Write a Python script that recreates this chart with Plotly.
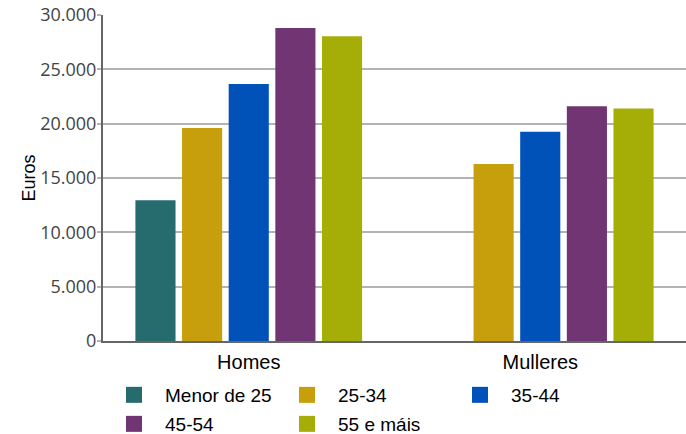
import plotly.graph_objects as go

categories = ["Homes", "Mulleres"]
series_names = ["Menor de 25", "25-34", "35-44", "45-54", "55 e máis"]
values = {
    "Menor de 25": [12950, None],
    "25-34": [19600, 16280],
    "35-44": [23650, 19250],
    "45-54": [28800, 21600],
    "55 e máis": [28050, 21400],
}
colors = ["#266b6e", "#c79e0c", "#0052b8", "#703572", "#a5ae07"]
y_ticks = [0, 5000, 10000, 15000, 20000, 25000, 30000]
legend_rows = [["Menor de 25", "25-34", "35-44"], ["45-54", "55 e máis"]]

fig = go.Figure()
for name, col in zip(series_names, colors):
    fig.add_trace(go.Bar(x=categories, y=values[name], name=name,
                         marker=dict(color=col, line=dict(width=0)),
                         showlegend=False))
for name, col in zip(series_names, colors):
    lg = "legend" if name in legend_rows[0] else "legend2"
    fig.add_trace(go.Scatter(x=[None], y=[None], mode="markers", name=name,
                             legend=lg,
                             marker=dict(symbol="square", size=18, color=col)))

leg_common = dict(orientation="h", x=0.0, xanchor="left", yanchor="middle",
                  font=dict(size=19, family="Liberation Sans, Arial, sans-serif", color="#000"),
                  entrywidth=106, entrywidthmode="pixels", itemwidth=52,
                  bgcolor="rgba(0,0,0,0)")

fig.update_layout(
    width=686, height=434,
    margin=dict(l=103, r=0, t=15, b=93, autoexpand=False),
    plot_bgcolor="white", paper_bgcolor="white",
    barmode="group", bargap=0.2, bargroupgap=0.14,
    separators=",.",
    font=dict(family="Liberation Sans, Arial, sans-serif", color="#000000"),
    legend=dict(leg_common, y=-0.1656),
    legend2=dict(leg_common, y=-0.2546),
    xaxis=dict(showline=True, linecolor="#666666", linewidth=2,
               tickfont=dict(size=20, color="#000"), ticks="outside",
               ticklen=2, tickcolor="rgba(0,0,0,0)",
               showgrid=False, automargin=False),
    yaxis=dict(range=[0, 30000], tickvals=y_ticks, tickformat=",d",
               showline=True, linecolor="#666666", linewidth=2,
               gridcolor="#b3b3b3", gridwidth=2,
               ticks="outside", ticklen=4, tickcolor="#b3b3b3", tickwidth=2,
               ticklabelstandoff=-3,
               tickfont=dict(size=18, family="Open Sans, sans-serif", color="#444444"),
               title=dict(text="Euros", font=dict(size=18, color="#000"), standoff=0),
               zeroline=False, automargin=False),
)
fig.write_html("out.html", config={"displayModeBar": False},
               post_script="document.body.style.margin='0';document.body.style.overflow='hidden';")
